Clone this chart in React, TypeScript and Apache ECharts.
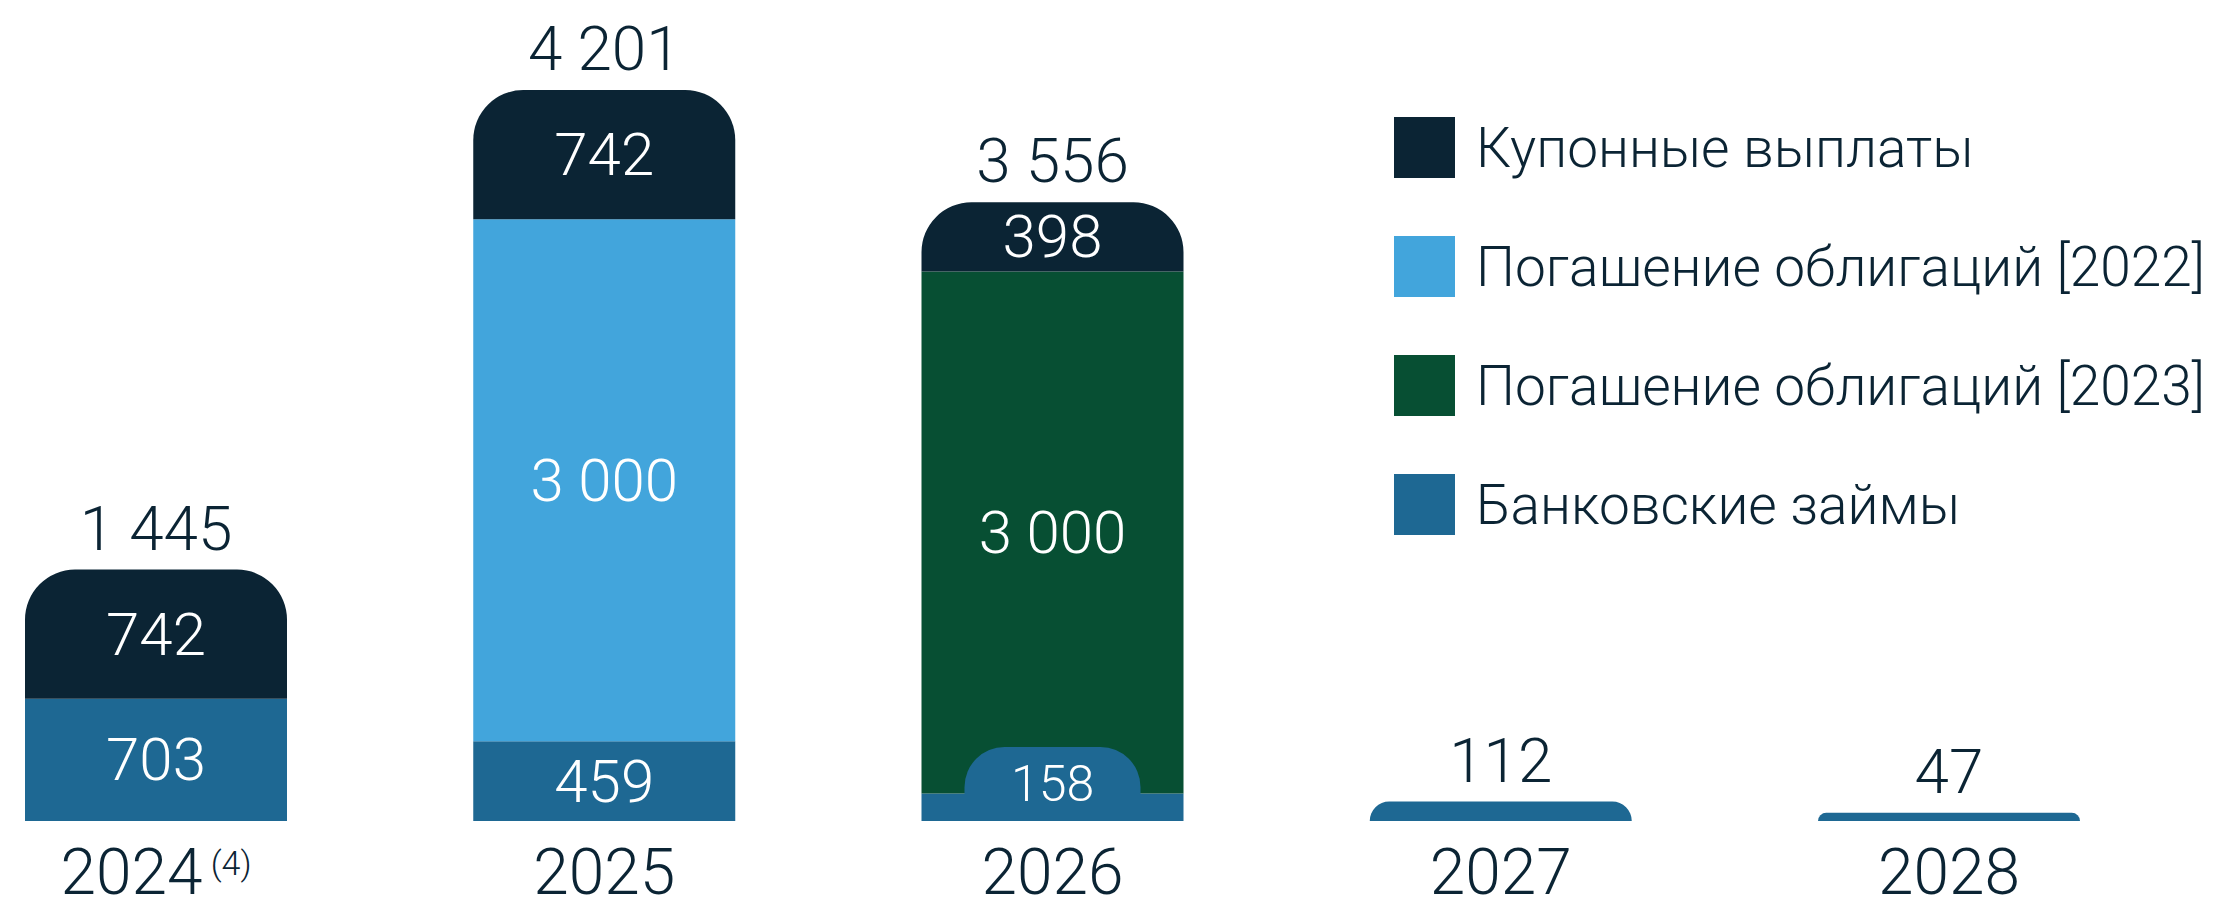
import React, { useEffect, useRef } from "react";
import * as echarts from "echarts";

const categories = ["2024", "2025", "2026", "2027", "2028"];
const couponPayments: (number | null)[] = [742, 742, 398, null, null];
const bonds2022: (number | null)[] = [null, 3000, null, null, null];
const bonds2023: (number | null)[] = [null, null, 3000, null, null];
const bankLoans: (number | null)[] = [703, 459, 158, 112, 47];
const totals = [1445, 4201, 3556, 112, 47];

const NAME_COUPON = "Купонные выплаты";
const NAME_B22 = "Погашение облигаций [2022]";
const NAME_B23 = "Погашение облигаций [2023]";
const NAME_BANK = "Банковские займы";

const DARK = "#0b2434";
const C_COUPON = "#0b2434";
const C_B22 = "#42a5dc";
const C_B23 = "#074f33";
const C_BANK = "#1e6893";
const FONT = "Roboto";
const W = 300;

const fmt = (v: number) => String(v).replace(/\B(?=(\d{3})+(?!\d))/g, " ");

export default function App() {
  const ref = useRef<HTMLDivElement>(null);
  useEffect(() => {
    if (!ref.current) return;
    const chart = echarts.init(ref.current, undefined, { renderer: "svg" });

    // stack order bottom -> top
    const stackDefs = [
      { name: NAME_BANK, data: bankLoans, color: C_BANK },
      { name: NAME_B22, data: bonds2022, color: C_B22 },
      { name: NAME_B23, data: bonds2023, color: C_B23 },
      { name: NAME_COUPON, data: couponPayments, color: C_COUPON },
    ];

    const topIndex = categories.map((_, ci) => {
      let t = -1;
      stackDefs.forEach((s, si) => {
        if (s.data[ci] != null) t = si;
      });
      return t;
    });
    const segCount = categories.map(
      (_, ci) => stackDefs.filter((s) => s.data[ci] != null).length
    );

    const barSeries = stackDefs.map((s, si) => ({
      name: s.name,
      type: "bar",
      stack: "total",
      barWidth: 262,
      clip: false,
      itemStyle: { color: s.color },
      emphasis: { disabled: true },
      data: s.data.map((v, ci) => {
        if (v == null) return null;
        const isTop = topIndex[ci] === si;
        const small = s.name === NAME_BANK && ci === 2;
        const label: any = small
          ? {
              show: true,
              position: "insideBottom",
              distance: 0,
              formatter: (p: any) => fmt(p.value),
              color: "#ffffff",
              fontSize: 50,
              fontFamily: FONT,
              fontWeight: W,
              backgroundColor: C_BANK,
              borderRadius: [40, 40, 0, 0],
              width: 176,
              height: 74,
              lineHeight: 74,
              align: "center",
              verticalAlign: "bottom",
            }
          : {
              show: segCount[ci] > 1,
              position: "inside",
              formatter: (p: any) => fmt(p.value),
              color: "#ffffff",
              fontSize: 60,
              fontFamily: FONT,
              fontWeight: W,
            };
        return {
          value: v,
          itemStyle: {
            color: s.color,
            borderRadius: isTop ? [50, 50, 0, 0] : 0,
          },
          label,
        };
      }),
    }));

    const option: any = {
      animation: false,
      backgroundColor: "#ffffff",
      grid: { left: 156, right: 284, top: 38, bottom: 87, containLabel: false },
      legend: {
        orient: "vertical",
        left: 1389,
        top: 112,
        itemWidth: 61,
        itemHeight: 61,
        itemGap: 58,
        icon: "rect",
        selectedMode: false,
        data: [NAME_COUPON, NAME_B22, NAME_B23, NAME_BANK],
        textStyle: {
          fontSize: 55,
          color: DARK,
          fontFamily: FONT,
          fontWeight: W,
          padding: [0, 0, 0, 16],
        },
      },
      xAxis: {
        type: "category",
        data: categories,
        boundaryGap: false,
        axisLine: { show: false },
        axisTick: { show: false },
        splitLine: { show: false },
        axisLabel: {
          margin: 25,
          formatter: (v: string) =>
            v === "2024" ? "{y|" + v + "}{g| }{s|(4)}" : "{y|" + v + "}",
          rich: {
            y: {
              fontSize: 64,
              lineHeight: 52,
              color: DARK,
              fontFamily: FONT,
              fontWeight: W,
            },
            g: { fontSize: 30, lineHeight: 52 },
            s: {
              fontSize: 34,
              lineHeight: 34,
              verticalAlign: "top",
              color: DARK,
              fontFamily: FONT,
              fontWeight: W,
            },
          },
        },
      },
      yAxis: {
        type: "value",
        min: 0,
        max: 4500,
        show: false,
        splitLine: { show: false },
      },
      series: [
        ...barSeries,
        {
          name: "Итого",
          type: "scatter",
          symbolSize: 1,
          itemStyle: { color: "rgba(0,0,0,0)", opacity: 1 },
          clip: false,
          label: {
            show: true,
            position: "top",
            distance: 11,
            formatter: (p: any) => fmt(p.value),
            fontSize: 62,
            lineHeight: 60,
            color: DARK,
            opacity: 1,
            fontFamily: FONT,
            fontWeight: W,
          },
          emphasis: { disabled: true },
          data: totals,
        },
      ],
    };
    chart.setOption(option);
    return () => chart.dispose();
  }, []);
  return (
    <div
      ref={ref}
      style={{ position: "absolute", left: 0, top: 0, width: 2233, height: 908 }}
    />
  );
}
